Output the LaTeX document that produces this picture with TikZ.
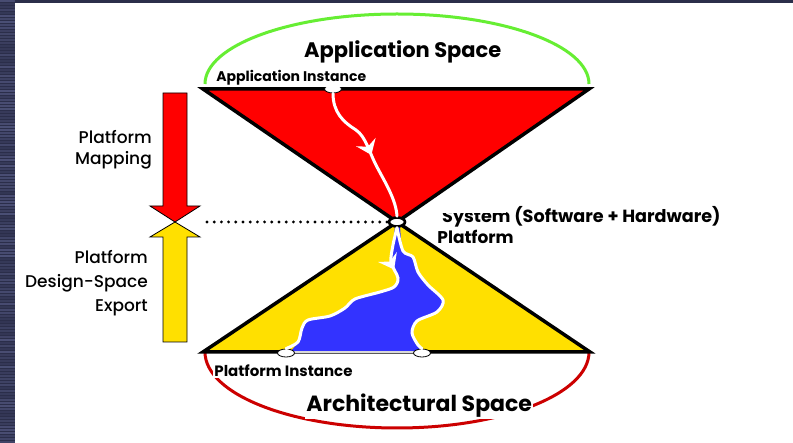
\documentclass[tikz,border=0pt]{standalone}
\usepackage{fontspec}
\setmainfont{Poppins}
\newfontfamily\medfont{Poppins Medium}
\usetikzlibrary{shapes.geometric,arrows.meta,decorations.markings}
\definecolor{bgdark}{HTML}{2B2E4A}
\definecolor{bgstripe}{HTML}{5A5F8A}
\definecolor{redfill}{HTML}{FF0000}
\definecolor{yellowfill}{HTML}{FFE000}
\definecolor{bluefill}{HTML}{3333FF}
\definecolor{greenarc}{HTML}{66EE33}
\definecolor{redarc}{HTML}{CC0000}
\tikzset{
  tri/.style={draw=black, line width=3.5pt, line join=miter},
  marker/.style={ellipse, draw=black, line width=0.8pt, fill=white, minimum width=17pt, minimum height=8pt, inner sep=0pt},
  flowline/.style={draw=white, line width=3pt, line cap=round},
  flowarrow/.style={postaction={decorate}, decoration={markings, mark=at position #1 with {\arrow{Stealth[length=14pt,width=21pt,inset=5pt]}}}},
  lbl/.style={inner sep=1.2pt, fill=white},
  bigarrow/.style={draw=black, line width=0.8pt},
  dotline/.style={draw=black, line width=3.2pt, line cap=round, dash pattern=on 0pt off 7.2pt},
}
\begin{document}
\begin{tikzpicture}[x=1pt,y=-1pt]
\useasboundingbox (0,0) rectangle (793,443);
% slide background
\fill[bgdark] (0,0) rectangle (793,443);
\pgfmathsetseed{7}
\foreach \k in {0,...,147}{
  \pgfmathsetmacro{\op}{0.15+0.55*rnd}
  \fill[bgstripe, opacity=\op] (0,\k*3) rectangle (15,\k*3+1.6);
}
\fill[white] (15,3) rectangle (793,443);

% space arcs
\draw[greenarc, line width=3pt] (205,84) arc[start angle=180, end angle=360, x radius=192, y radius=70];
\draw[redarc, line width=3pt] (205,352) arc[start angle=180, end angle=0, x radius=192, y radius=76];

% triangles
\coordinate (apexpt) at (397,222);
\filldraw[tri, fill=redfill] (203,89) -- (589,89) -- (apexpt) -- cycle;
\filldraw[tri, fill=yellowfill] (apexpt) -- (590,352) -- (203,352) -- cycle;

% blue platform region
\fill[bluefill] plot[smooth] coordinates {(395,226) (393,245) (391,262) (398,278) (394,287) (380,292) (355,299) (345,308) (330,316) (308,320) (302,328) (298,342) (290,352)}
  -- plot[smooth] coordinates {(425,352) (418,345) (412,333) (417,321) (437,312) (443,300) (428,285) (418,272) (413,257) (403,251) (400,226)} -- cycle;
\draw[white!85!black, line width=2pt] (290,352.5) -- (425,352.5);

% markers
\node[marker] (ainst) at (333,89) {};
\node[marker] (pinst1) at (286,353) {};
\node[marker] (pinst2) at (422,353) {};
\node[ellipse, draw=black, line width=2.6pt, fill=white, minimum width=16pt, minimum height=9pt, inner sep=0pt] (apex) at (397,222) {};

% white flow lines
\draw[flowline, flowarrow=0.53] (ainst.south) .. controls (333,112) and (343,122) .. (356,130) .. controls (366,137) and (369,152) .. (377,167) .. controls (386,184) and (396,200) .. (apex.north);
\draw[flowline, flowarrow=0.22] plot[smooth] coordinates {(apex.south) (393,245) (391,262) (398,278) (394,287) (380,292) (355,299) (345,308) (330,316) (308,320) (302,328) (298,342) (pinst1.north)};
\draw[flowline] plot[smooth] coordinates {(apex.south) (403,251) (413,257) (418,272) (428,285) (443,300) (437,312) (417,321) (412,333) (418,345) (pinst2.north)};

% dotted level line
\coordinate (dotstart) at (207,222);
\draw[dotline] (dotstart) -- (apex.west);

% labels
\node[anchor=base west, inner sep=0pt, font=\bfseries\fontsize{21}{24}\selectfont] (appspace) at (304,58) {Application Space};
\node[lbl, anchor=base west, font=\bfseries\fontsize{14}{16}\selectfont] (appinst) at (215,82) {Application Instance};
\node[anchor=base west, inner sep=0pt, font=\bfseries\fontsize{17.6}{20}\selectfont] (system) at (442,223) {System (Software + Hardware)};
\fill[white] (440,200) rectangle (506,213.3);
\node[lbl, anchor=base west, font=\bfseries\fontsize{17}{20}\selectfont] (platform) at (436,244) {Platform};
\node[lbl, anchor=base west, font=\bfseries\fontsize{15}{17}\selectfont] (platinst) at (213,377) {Platform Instance};
\node[lbl, anchor=base west, font=\bfseries\fontsize{22}{25}\selectfont] (archspace) at (305,412) {Architectural Space};

% left arrows
\filldraw[bigarrow, fill=redfill] (163,93) -- (187,93) -- (187,206) -- (200,206) -- (175,222) -- (150,206) -- (163,206) -- cycle;
\filldraw[bigarrow, fill=yellowfill] (175,222) -- (200,237) -- (187,237) -- (187,342) -- (163,342) -- (163,237) -- (150,237) -- cycle;

\node[anchor=north east, align=right, inner sep=0pt, font=\medfont\fontsize{17}{21}\selectfont] (mapping) at (152,130.5) {Platform\\Mapping};
\node[anchor=north east, align=right, inner sep=0pt, font=\medfont\fontsize{17}{24}\selectfont] (export) at (148,250.5) {Platform\\Design-Space\\Export};
\end{tikzpicture}
\end{document}
